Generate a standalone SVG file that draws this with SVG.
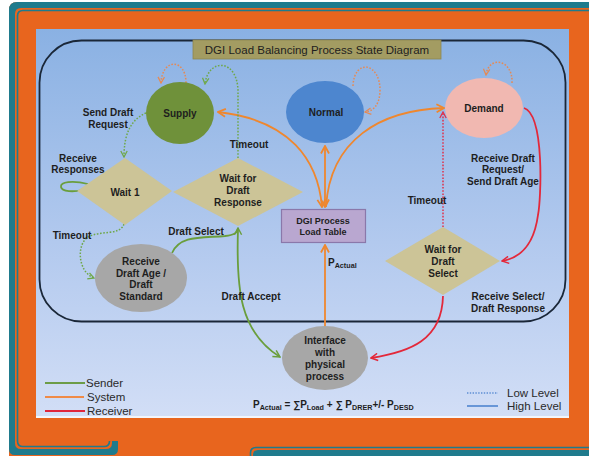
<svg xmlns="http://www.w3.org/2000/svg" width="589" height="456" viewBox="0 0 589 456">
  <style>
    text { font-family: "Liberation Sans", Arial, sans-serif; fill: #1e1e1e; }
    .t { font-size: 10px; font-weight: bold; text-anchor: middle; }
    .lbl { font-size: 10px; font-weight: bold; text-anchor: middle; }
    .small { font-size: 9px; font-weight: bold; text-anchor: middle; }
    .leg { font-size: 11.5px; fill: #2a2a2a; }
    .sub { font-size: 7.2px; }
    .hi { fill: none; stroke-width: 1.8; }
    .lo { fill: none; stroke-width: 1.5; stroke-dasharray: 1.6 1.6; }
    .sys { stroke: #ef872e; }
    .snd { stroke: #6a9e3c; }
    .rcv { stroke: #e3283a; }
    .sysLo { stroke: #e58a55; }
    .sndLo { stroke: #6fa84a; }
    .rcvLo { stroke: #e0304a; }
  </style>
  <defs>
    <linearGradient id="panelBg" x1="0" y1="0" x2="0" y2="1">
      <stop offset="0" stop-color="#8ab1e3"/>
      <stop offset="0.55" stop-color="#b2c9ee"/>
      <stop offset="1" stop-color="#d2def6"/>
    </linearGradient>
    <marker id="aSys" viewBox="0 0 10 10" refX="9" refY="5" markerWidth="10" markerHeight="10" orient="auto-start-reverse" markerUnits="userSpaceOnUse">
      <path d="M1.5,1 L9,5 L1.5,9" fill="none" stroke="#ef872e" stroke-width="1.8"/>
    </marker>
    <marker id="aSysLo" viewBox="0 0 10 10" refX="9" refY="5" markerWidth="8" markerHeight="8" orient="auto" markerUnits="userSpaceOnUse">
      <path d="M1.5,1 L9,5 L1.5,9" fill="none" stroke="#e58a55" stroke-width="1.6"/>
    </marker>
    <marker id="aSnd" viewBox="0 0 10 10" refX="9" refY="5" markerWidth="9" markerHeight="9" orient="auto" markerUnits="userSpaceOnUse">
      <path d="M1.5,1 L9,5 L1.5,9" fill="none" stroke="#6a9e3c" stroke-width="1.6"/>
    </marker>
    <marker id="aSndLo" viewBox="0 0 10 10" refX="9" refY="5" markerWidth="8" markerHeight="8" orient="auto" markerUnits="userSpaceOnUse">
      <path d="M1.5,1 L9,5 L1.5,9" fill="none" stroke="#6fa84a" stroke-width="1.6"/>
    </marker>
    <marker id="aRcv" viewBox="0 0 10 10" refX="9" refY="5" markerWidth="9" markerHeight="9" orient="auto" markerUnits="userSpaceOnUse">
      <path d="M1.5,1 L9,5 L1.5,9" fill="none" stroke="#e3283a" stroke-width="1.6"/>
    </marker>
    <marker id="aRcvLo" viewBox="0 0 10 10" refX="9" refY="5" markerWidth="8" markerHeight="8" orient="auto" markerUnits="userSpaceOnUse">
      <path d="M1.5,1 L9,5 L1.5,9" fill="none" stroke="#e0304a" stroke-width="1.6"/>
    </marker>
  </defs>

  <!-- slide frame -->
  <rect width="589" height="456" fill="#ffffff"/>
  <path d="M9,456 V10 Q9,2 17,2 H589 V456 Z" fill="#e8651e"/>
  <path d="M118,441 V449 Q118,455 112,455 H15 Q9,455 9,449 V10 Q9,2 17,2 H589 V8 H21 Q15,8 15,14 V443 Q15,449 21,449 H106 Q112,449 112,443 V441 Z" fill="#1f7b8d"/>
  <path d="M109.5,441 Q109.5,446.5 104,446.5 H23 Q17.5,446.5 17.5,441 V16 Q17.5,10.5 23,10.5 H589" fill="none" stroke="#1f7b8d" stroke-width="1.6"/>
  <path d="M253,456 V455 Q253,450 258,450 H589 V456 Z" fill="#1f7b8d"/>
  <path d="M250.5,456 V453 Q250.5,447.5 256,447.5 H589" fill="none" stroke="#1f7b8d" stroke-width="1.6"/>

  <!-- content panel -->
  <rect x="36" y="29" width="533" height="388" fill="url(#panelBg)"/>
  <rect x="36" y="416" width="533" height="2" fill="#f2f5fb"/>

  <!-- process boundary -->
  <rect x="39.5" y="40.5" width="526" height="281" rx="42" fill="none" stroke="#1a2738" stroke-width="1.8"/>

  <!-- title -->
  <g id="title">
    <rect x="193" y="40" width="248" height="19" fill="#a39c62" stroke="#8d8752" stroke-width="0.8"/>
    <text x="317" y="53.5" font-size="11.5" text-anchor="middle">DGI Load Balancing Process State Diagram</text>
  </g>

  <!-- connectors -->
  <g id="connectors">
    <!-- system (orange) -->
    <path class="hi sys" d="M322,207 C318,160 290,120 218,112" marker-start="url(#aSys)" marker-end="url(#aSys)"/>
    <path class="hi sys" d="M325,146 V207" marker-start="url(#aSys)" marker-end="url(#aSys)"/>
    <path class="hi sys" d="M326,207 C330,140 380,110 444,108" marker-end="url(#aSys)"/>
    <path class="hi sys" d="M325,326 V245" marker-end="url(#aSys)"/>
    <path class="lo sysLo" d="M186,83 C186,58 162,58 161,83" marker-end="url(#aSysLo)"/>
    <path class="lo sysLo" d="M353,86 C354,58 381,62 380,92 C379,106 373,111 365,112" marker-end="url(#aSysLo)"/>
    <path class="lo sysLo" d="M512,83 C513,58 488,56 486,75" marker-end="url(#aSysLo)"/>

    <!-- sender (green) -->
    <path class="lo sndLo" d="M146,113 C130,120 124,135 124,157" marker-end="url(#aSndLo)"/>
    <path class="lo sndLo" d="M238,158 V92 C238,58 208,58 205,84" marker-end="url(#aSndLo)"/>
    <path class="lo sndLo" d="M124,224 C120,236 100,230 88,237 C76,245 78,272 94,278" marker-end="url(#aSndLo)"/>
    <path class="hi snd" d="M88,184 C72,180 60,182 61,187 C62,192 74,192 82,190"/>
    <path class="hi snd" d="M172,253 C180,235 202,238 225,236 C234,235 238,233 238,228" marker-end="url(#aSnd)"/>
    <path class="hi snd" d="M238,229 C236,290 240,332 280,357" marker-end="url(#aSnd)"/>

    <!-- receiver (red) -->
    <path class="hi rcv" d="M524,108 C545,115 541,200 538,215 C534,245 520,258 502,261" marker-end="url(#aRcv)"/>
    <path class="lo rcvLo" d="M443,227 V112" marker-end="url(#aRcvLo)"/>
    <path class="hi rcv" d="M443,296 C442,340 410,352 371,358" marker-end="url(#aRcv)"/>
  </g>

  <!-- states -->
  <g id="supply">
    <ellipse cx="180" cy="113" rx="34" ry="31" fill="#6f913a"/>
    <text class="t" x="180" y="116.5">Supply</text>
  </g>
  <g id="normal">
    <ellipse cx="325" cy="112" rx="39" ry="31" fill="#4d86cf"/>
    <text class="t" x="326" y="115.5">Normal</text>
  </g>
  <g id="demand">
    <ellipse cx="484" cy="108" rx="39" ry="30" fill="#f1b8b1"/>
    <text class="t" x="484" y="111.5">Demand</text>
  </g>
  <g id="wait1">
    <polygon points="125,158 172,191 125,225 77,191" fill="#ccc497"/>
    <text class="t" x="125" y="195.5">Wait 1</text>
  </g>
  <g id="waitDraftResponse">
    <polygon points="238,158 303,192 238,226 173,192" fill="#ccc497"/>
    <text class="t" x="238" y="181.5">Wait for</text>
    <text class="t" x="238" y="193.5">Draft</text>
    <text class="t" x="238" y="205.5">Response</text>
  </g>
  <g id="loadTable">
    <rect x="281.5" y="209.5" width="84" height="33" fill="#b9a7d0" stroke="#8a78aa" stroke-width="1.2"/>
    <text class="small" x="323" y="224">DGI Process</text>
    <text class="small" x="323" y="235">Load Table</text>
  </g>
  <g id="waitDraftSelect">
    <polygon points="443,227 500,261 443,295 385,261" fill="#ccc497"/>
    <text class="t" x="443" y="252.5">Wait for</text>
    <text class="t" x="443" y="264.5">Draft</text>
    <text class="t" x="443" y="276.5">Select</text>
  </g>
  <g id="receiveDraftAge">
    <ellipse cx="141" cy="278" rx="46" ry="34" fill="#a7a7a7"/>
    <text class="t" x="141" y="264.5">Receive</text>
    <text class="t" x="141" y="276.5">Draft Age /</text>
    <text class="t" x="141" y="288">Draft</text>
    <text class="t" x="141" y="300">Standard</text>
  </g>
  <g id="interface">
    <ellipse cx="325" cy="358" rx="43" ry="32" fill="#a7a7a7"/>
    <text class="t" x="325" y="343.5">Interface</text>
    <text class="t" x="325" y="355.5">with</text>
    <text class="t" x="325" y="367.5">physical</text>
    <text class="t" x="325" y="380">process</text>
  </g>

  <!-- transition labels -->
  <g id="labels">
    <text class="lbl" x="108" y="116">Send Draft</text>
    <text class="lbl" x="108" y="128">Request</text>
    <text class="lbl" x="78" y="161.5">Receive</text>
    <text class="lbl" x="78" y="173">Responses</text>
    <text class="lbl" x="249" y="147.5">Timeout</text>
    <text class="lbl" x="72" y="238.5">Timeout</text>
    <text class="lbl" x="196" y="234.5">Draft Select</text>
    <text class="lbl" x="251" y="299.5">Draft Accept</text>
    <text class="lbl" x="427" y="203.5">Timeout</text>
    <text class="lbl" x="503" y="161.5">Receive Draft</text>
    <text class="lbl" x="503" y="173">Request/</text>
    <text class="lbl" x="503" y="184.5">Send Draft Age</text>
    <text class="lbl" x="508" y="299.5">Receive Select/</text>
    <text class="lbl" x="508" y="311.5">Draft Response</text>
    <text x="328" y="266" font-size="10" font-weight="bold">P<tspan class="sub" dy="2">Actual</tspan></text>
    <text x="253" y="408" font-size="10" font-weight="bold">P<tspan class="sub" dy="2">Actual</tspan><tspan dy="-2"> = ∑P</tspan><tspan class="sub" dy="2">Load</tspan><tspan dy="-2"> + ∑ P</tspan><tspan class="sub" dy="2">DRER</tspan><tspan dy="-2">+/- P</tspan><tspan class="sub" dy="2">DESD</tspan></text>
  </g>

  <!-- legend -->
  <g id="legend">
    <line x1="45" y1="383" x2="85" y2="383" stroke="#6c9c48" stroke-width="1.8"/>
    <text class="leg" x="86" y="386.5">Sender</text>
    <line x1="45" y1="397" x2="84" y2="397" stroke="#ef8a47" stroke-width="1.8"/>
    <text class="leg" x="87" y="400.5">System</text>
    <line x1="45" y1="411" x2="85" y2="411" stroke="#e0263c" stroke-width="1.8"/>
    <text class="leg" x="87" y="414.5">Receiver</text>
    <line x1="467" y1="393" x2="498" y2="393" stroke="#5d8ed4" stroke-width="1.4" stroke-dasharray="1.4 1.4"/>
    <text class="leg" x="507" y="397">Low Level</text>
    <line x1="467" y1="406" x2="498" y2="406" stroke="#5d8ed4" stroke-width="1.8"/>
    <text class="leg" x="507" y="410">High Level</text>
  </g>
</svg>
